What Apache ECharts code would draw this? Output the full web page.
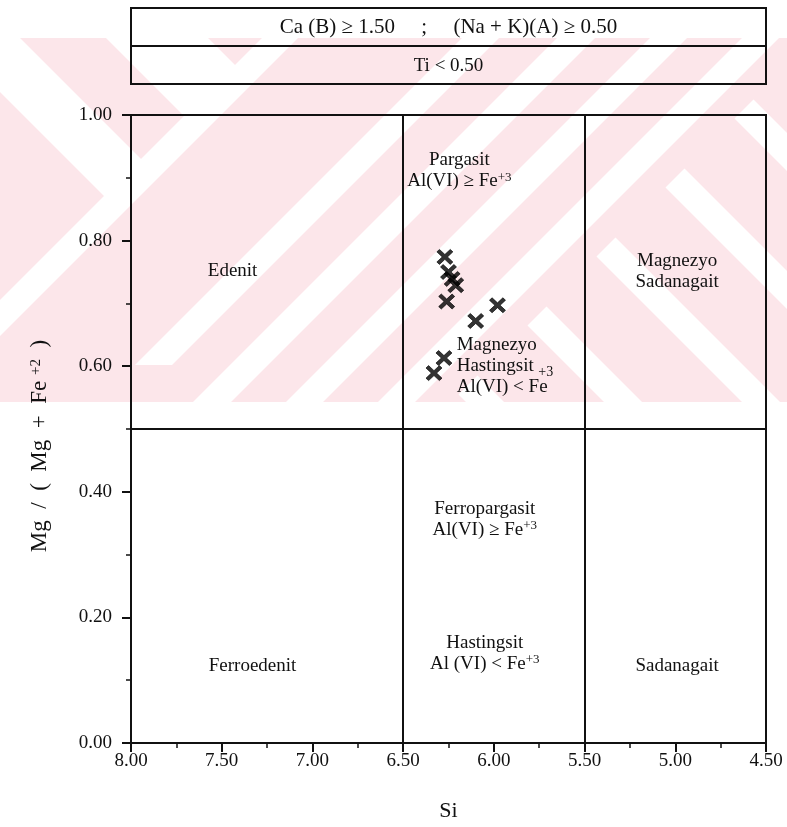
<!DOCTYPE html>
<html>
<head>
<meta charset="utf-8">
<script src="https://cdn.jsdelivr.net/npm/echarts@6/dist/echarts.min.js"></script>
<style>
  html, body { margin: 0; padding: 0; background: #ffffff; }
  #chart { width: 787px; height: 827px; }
</style>
</head>
<body>
<div id="chart"></div>
<script>
// Amphibole analyses: Si (apfu) and Mg/(Mg+Fe2+)
const siValues = [6.27, 6.25, 6.23, 6.21, 6.26, 5.98, 6.10, 6.275, 6.33];
const mgValues = [0.774, 0.750, 0.739, 0.729, 0.703, 0.697, 0.672, 0.613, 0.589];

// Field boundaries of the calcic amphibole diagram
const siBoundaries = [6.5, 5.5];
const mgBoundaries = [0.5];

// Axis ranges and tick spacing
const siRange = [4.5, 8.0];
const mgRange = [0.0, 1.0];
const siStep = 0.5;
const mgStep = 0.2;

// Header conditions
const headerLines = ['Ca (B) \u2265 1.50     ;     (Na + K)(A) \u2265 0.50', 'Ti < 0.50'];

// Field names: lines of text anchored at (Si, Mg)
const fieldLabels = [
  { lines: ['Pargasit', 'Al(VI) \u2265 Fe{s|+3}'], si: 6.19, mg: 0.911 },
  { lines: ['Edenit'], si: 7.44, mg: 0.752 },
  { lines: ['Magnezyo', 'Sadanagait'], si: 4.99, mg: 0.751 },
  { lines: ['Magnezyo', 'Hastingsit', 'Al(VI) < Fe'], si: 6.205, mg: 0.601, align: 'left' },
  { lines: ['+3'], si: 5.755, mg: 0.590, align: 'left', size: 14 },
  { lines: ['Ferropargasit', 'Al(VI) \u2265 Fe{s|+3}'], si: 6.05, mg: 0.356 },
  { lines: ['Ferroedenit'], si: 7.33, mg: 0.122 },
  { lines: ['Sadanagait'], si: 4.99, mg: 0.122 },
  { lines: ['Hastingsit', 'Al (VI) < Fe{s|+3}'], si: 6.05, mg: 0.143 }
];

const FONT = '"Liberation Serif", "DejaVu Serif", serif';
const INK = '#111111';

const chart = echarts.init(document.getElementById('chart'), null, { renderer: 'canvas' });

// Bold diagonal cross used as the plotting symbol
const crossPath = 'path://M0,2.6 L2.6,0 L8,5.4 L13.4,0 L16,2.6 L10.6,8 L16,13.4 L13.4,16 L8,10.6 L2.6,16 L0,13.4 L5.4,8 Z';

const points = siValues.map((s, i) => [s, mgValues[i]]);

const boundaryLines = siBoundaries.map(v => ({ xAxis: v }))
  .concat(mgBoundaries.map(v => ({ yAxis: v })));

chart.setOption({
  backgroundColor: '#ffffff',
  animation: false,
  grid: { left: 131, right: 21, top: 115, bottom: 84, show: true, borderColor: INK, borderWidth: 2, backgroundColor: 'transparent' },
  xAxis: {
    type: 'value', inverse: true, min: siRange[0], max: siRange[1], interval: siStep,
    name: 'Si', nameLocation: 'middle', nameGap: 57,
    nameTextStyle: { fontFamily: FONT, fontSize: 22, color: INK },
    axisLine: { show: true, onZero: false, lineStyle: { color: INK, width: 2 } },
    axisTick: { show: true, inside: false, length: 9, lineStyle: { color: INK, width: 2 } },
    minorTick: { show: true, splitNumber: 2, length: 5, lineStyle: { color: INK, width: 1.5 } },
    splitLine: { show: false },
    axisLabel: { fontFamily: FONT, fontSize: 19, color: INK, margin: 9, formatter: v => v.toFixed(2) }
  },
  yAxis: {
    type: 'value', min: mgRange[0], max: mgRange[1], interval: mgStep,
    axisLine: { show: true, onZero: false, lineStyle: { color: INK, width: 2 } },
    axisTick: { show: true, inside: false, length: 9, lineStyle: { color: INK, width: 2 } },
    minorTick: { show: true, splitNumber: 2, length: 5, lineStyle: { color: INK, width: 1.5 } },
    splitLine: { show: false },
    axisLabel: { fontFamily: FONT, fontSize: 19, color: INK, margin: 19, formatter: v => v.toFixed(2) }
  },
  series: [{
    type: 'scatter',
    data: points,
    symbol: crossPath,
    symbolSize: [16, 15],
    itemStyle: { color: '#000000', borderColor: '#000000', borderWidth: 0.8 },
    z: 5,
    markLine: {
      silent: true, symbol: 'none', label: { show: false },
      lineStyle: { color: INK, width: 2, type: 'solid' },
      data: boundaryLines
    }
  }]
});

// Pale diagonal pattern behind the upper part of the figure
const bandTop = 38, bandBottom = 402, pageW = 787;
const PINK = '#fce6ea';

// Clip a convex polygon against a half-plane a*x + b*y <= k
function clipHalf(poly, a, b, k) {
  const out = [];
  for (let i = 0; i < poly.length; i++) {
    const p = poly[i], q = poly[(i + 1) % poly.length];
    const fp = a * p[0] + b * p[1] - k, fq = a * q[0] + b * q[1] - k;
    if (fp <= 0) out.push(p);
    if ((fp < 0 && fq > 0) || (fp > 0 && fq < 0)) {
      const t = fp / (fp - fq);
      out.push([p[0] + t * (q[0] - p[0]), p[1] + t * (q[1] - p[1])]);
    }
  }
  return out;
}
const bandRect = [[-400, bandTop], [pageW + 400, bandTop], [pageW + 400, bandBottom], [-400, bandBottom]];
// "/" stripe: c1 <= x + y <= c2 ; "\" stripe: d1 <= x - y <= d2 ; optional limits on x + y
function slash(c1, c2, yMax) {
  let p = clipHalf(bandRect, 1, 1, c2);
  p = clipHalf(p, -1, -1, -c1);
  if (yMax) p = clipHalf(p, 0, 1, yMax);
  return p;
}
function back(d1, d2, cMin, cMax) {
  let p = clipHalf(bandRect, 1, -1, d2);
  p = clipHalf(p, -1, 1, -d1);
  if (cMax !== undefined) p = clipHalf(p, 1, 1, cMax);
  if (cMin !== undefined) p = clipHalf(p, -1, -1, -cMin);
  return p;
}
const whiteShapes = [
  back(-92, -18, undefined, 312),
  back(68, 170, undefined, 328),
  slash(300, 336),
  slash(500, 537, 365),
  slash(595, 633),
  slash(688, 725),
  slash(780, 817),
  back(64, 102, 853),
  back(202, 240, 853),
  back(340, 378, 853),
  back(478, 516, 853),
  back(616, 654, 853)
];

const graphics = [];
graphics.push({ type: 'rect', z: -20, silent: true, shape: { x: 0, y: bandTop, width: pageW, height: bandBottom - bandTop }, style: { fill: PINK } });
whiteShapes.forEach(pts => {
  if (pts.length > 2) graphics.push({ type: 'polygon', z: -19, silent: true, shape: { points: pts }, style: { fill: '#ffffff' } });
});

// Header boxes
const boxL = 131, boxR = 766, boxTop = 8, boxMid = 46, boxBot = 84;
graphics.push({ type: 'rect', z: 10, silent: true, shape: { x: boxL, y: boxTop, width: boxR - boxL, height: boxMid - boxTop }, style: { fill: 'transparent', stroke: INK, lineWidth: 2 } });
graphics.push({ type: 'rect', z: 10, silent: true, shape: { x: boxL, y: boxMid, width: boxR - boxL, height: boxBot - boxMid }, style: { fill: 'transparent', stroke: INK, lineWidth: 2 } });
graphics.push({ type: 'text', z: 11, silent: true, x: (boxL + boxR) / 2, y: (boxTop + boxMid) / 2, style: { text: headerLines[0], font: '21px ' + FONT, fill: INK, align: 'center', verticalAlign: 'middle' } });
graphics.push({ type: 'text', z: 11, silent: true, x: (boxL + boxR) / 2, y: (boxMid + boxBot) / 2 + 1, style: { text: headerLines[1], font: '19px ' + FONT, fill: INK, align: 'center', verticalAlign: 'middle' } });

const rich = {
  s: { fontSize: 13, fontFamily: FONT, fill: INK, verticalAlign: 'top', lineHeight: 12 }
};

fieldLabels.forEach(f => {
  const p = chart.convertToPixel({ gridIndex: 0 }, [f.si, f.mg]);
  const size = f.size || 19;
  graphics.push({
    type: 'text', z: 11, silent: true, x: p[0], y: p[1],
    style: { text: f.lines.join('\n'), font: size + 'px ' + FONT, fill: INK, align: f.align || 'center', verticalAlign: 'middle', lineHeight: 21, rich: rich }
  });
});

// Y axis title
graphics.push({
  type: 'text', z: 11, silent: true, x: 40, y: 446, rotation: Math.PI / 2,
  style: { text: 'Mg  /  (  Mg  +  Fe {s|+2}  )', font: '23px ' + FONT, fill: INK, align: 'center', verticalAlign: 'middle', rich: { s: { fontSize: 15, fontFamily: FONT, verticalAlign: 'top', lineHeight: 14 } } }
});

chart.setOption({ graphic: { elements: graphics } });
</script>
</body>
</html>
